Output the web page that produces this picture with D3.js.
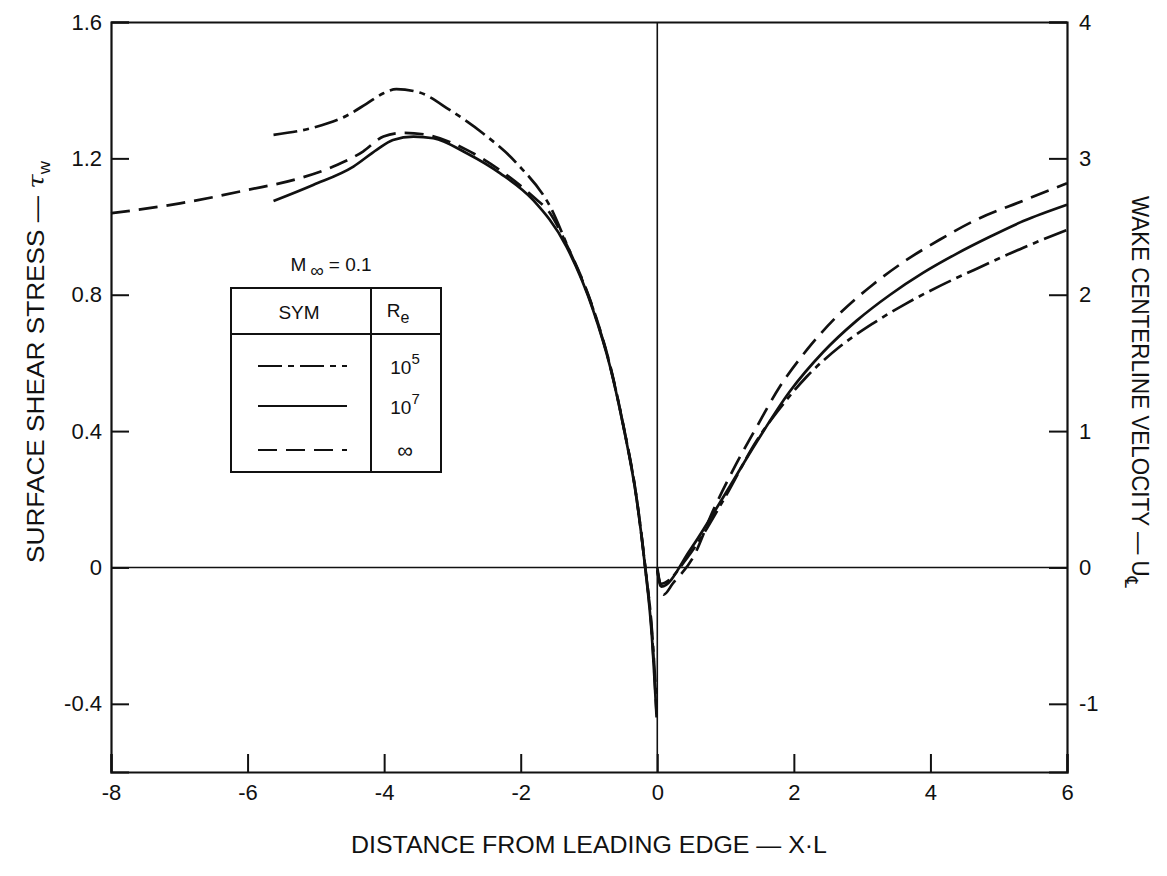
<!DOCTYPE html>
<html>
<head>
<meta charset="utf-8">
<script src="https://cdn.jsdelivr.net/npm/d3@7"></script>
<style>
  html, body { margin: 0; padding: 0; background: #fff; }
  svg text { font-family: "Liberation Sans", Arial, Helvetica, sans-serif; fill: #111; }
</style>
</head>
<body>
<svg id="chart" width="1167" height="876"></svg>
<script>
// ---------- DATA ----------
const xTicks = [-8, -6, -4, -2, 0, 2, 4, 6];
const xTickLabels = ["-8", "-6", "-4", "-2", "0", "2", "4", "6"];
const yLeftTicks = [1.6, 1.2, 0.8, 0.4, 0, -0.4];
const yLeftTickLabels = ["1.6", "1.2", "0.8", "0.4", "0", "-0.4"];
const yRightTicks = [4, 3, 2, 1, 0, -1];
const yRightTickLabels = ["4", "3", "2", "1", "0", "-1"];

// Surface shear stress (left axis), x < 0
const shearInfX = [-8, -6.99, -6.01, -5.23, -4.745, -4.31, -4.01, -3.72, -3.4, -2.79, -2.30, -1.82, -1.57, -1.33, -0.94, -0.69, -0.50, -0.30, -0.18, -0.08, -0.01];
const shearInfY = [1.039, 1.068, 1.107, 1.142, 1.176, 1.22, 1.264, 1.275, 1.270, 1.225, 1.165, 1.088, 1.039, 0.948, 0.760, 0.592, 0.420, 0.200, 0.008, -0.19, -0.43];
const shear1e7X = [-5.62, -5.04, -4.45, -4.11, -3.87, -3.57, -3.28, -2.79, -2.30, -1.82, -1.33, -0.94, -0.69, -0.50, -0.30, -0.18, -0.08, -0.01];
const shear1e7Y = [1.075, 1.122, 1.176, 1.225, 1.254, 1.264, 1.259, 1.215, 1.156, 1.078, 0.941, 0.755, 0.588, 0.417, 0.197, 0.005, -0.2, -0.44];
const shear1e5X = [-5.62, -5.04, -4.55, -4.26, -4.01, -3.82, -3.48, -3.04, -2.55, -2.06, -1.52, -1.33, -0.94, -0.69, -0.50, -0.30, -0.18, -0.08, -0.01];
const shear1e5Y = [1.269, 1.290, 1.325, 1.360, 1.391, 1.403, 1.393, 1.342, 1.273, 1.186, 1.039, 0.950, 0.758, 0.590, 0.419, 0.199, 0.006, -0.18, -0.40];

// Wake centerline velocity (right axis), x > 0
const wakeInfX = [0, 0.09, 0.23, 0.53, 0.82, 1.11, 1.455, 1.80, 2.19, 2.675, 3.16, 3.65, 4.14, 4.63, 5.36, 6];
const wakeInfY = [0, -0.2, -0.116, 0.079, 0.42, 0.715, 1.03, 1.33, 1.595, 1.864, 2.075, 2.255, 2.405, 2.54, 2.69, 2.817];
const wake1e7X = [0, 0.06, 0.48, 0.97, 1.455, 1.94, 2.43, 2.92, 3.41, 3.89, 4.38, 4.87, 5.36, 6];
const wake1e7Y = [-0.02, -0.14, 0.128, 0.519, 0.92, 1.29, 1.58, 1.81, 2.0, 2.16, 2.30, 2.425, 2.54, 2.66];
const wake1e5X = [0, 0.05, 0.48, 0.97, 1.455, 1.80, 2.19, 2.675, 3.16, 3.65, 4.14, 4.63, 5.36, 6];
const wake1e5Y = [-0.02, -0.12, 0.10, 0.495, 0.93, 1.17, 1.40, 1.62, 1.79, 1.937, 2.065, 2.18, 2.345, 2.475];

const legendLabels = ["5", "7", "∞"];   // R_e values: 10^5, 10^7, ∞
const legendStyles = ["dashdot", "solid", "dashed"];

// ---------- CHART ----------
const svg = d3.select("#chart");
const x = d3.scaleLinear().domain([-8, 6]).range([111, 1067]);
const yL = d3.scaleLinear().domain([-0.6, 1.6]).range([772, 22]);
const yR = d3.scaleLinear().domain([-1.5, 4]).range([772, 22]);

const dashes = { solid: null, dashed: "19,9", dashdot: "24,6,6,6" };
const fontSize = 22;

// zero reference lines
svg.append("line").attr("x1", x(-8)).attr("x2", x(6)).attr("y1", yL(0)).attr("y2", yL(0))
  .attr("stroke", "#111").attr("stroke-width", 1.6);
svg.append("line").attr("x1", x(0)).attr("x2", x(0)).attr("y1", yL(1.6)).attr("y2", yL(-0.6))
  .attr("stroke", "#111").attr("stroke-width", 1.6);

// axes
const tick = 18;
const gB = svg.append("g").attr("transform", `translate(0,${yL(-0.6)})`)
  .call(d3.axisBottom(x).tickValues(xTicks).tickSize(-tick).tickFormat((d, i) => xTickLabels[i]).tickPadding(9));
const gL = svg.append("g").attr("transform", `translate(${x(-8)},0)`)
  .call(d3.axisLeft(yL).tickValues(yLeftTicks).tickSize(-tick).tickFormat((d, i) => yLeftTickLabels[i]).tickPadding(10));
const gR = svg.append("g").attr("transform", `translate(${x(6)},0)`)
  .call(d3.axisRight(yR).tickValues(yRightTicks).tickSize(-tick).tickFormat((d, i) => yRightTickLabels[i]).tickPadding(10));
const gT = svg.append("g").attr("transform", `translate(0,${yL(1.6)})`)
  .call(d3.axisTop(x).tickValues([]).tickSize(0));
[gB, gL, gR, gT].forEach(g => {
  g.select(".domain").attr("stroke", "#111").attr("stroke-width", 2.2);
  g.selectAll(".tick line").attr("stroke", "#111").attr("stroke-width", 2);
  g.selectAll(".tick text").attr("font-size", fontSize).attr("fill", "#111")
    .attr("font-family", "'Liberation Sans', Arial, sans-serif");
});
gB.selectAll(".tick text").attr("dy", "0.85em");
gL.selectAll(".tick text").attr("x", -9);
gR.selectAll(".tick text").attr("x", 12);

// curves
const line = d3.line().x(d => x(d[0])).curve(d3.curveMonotoneX);
function drawSeries(xs, ys, yScale, style) {
  const pts = xs.map((v, i) => [v, ys[i]]);
  svg.append("path").datum(pts)
    .attr("d", line.y(d => yScale(d[1])))
    .attr("fill", "none").attr("stroke", "#111").attr("stroke-width", 2.7)
    .attr("stroke-dasharray", dashes[style]);
}
drawSeries(shearInfX, shearInfY, yL, "dashed");
drawSeries(shear1e5X, shear1e5Y, yL, "dashdot");
drawSeries(shear1e7X, shear1e7Y, yL, "solid");
drawSeries(wakeInfX, wakeInfY, yR, "dashed");
drawSeries(wake1e5X, wake1e5Y, yR, "dashdot");
drawSeries(wake1e7X, wake1e7Y, yR, "solid");

// axis titles
const tL = svg.append("text").attr("transform", "translate(44,362) rotate(-90)")
  .attr("text-anchor", "middle").attr("font-size", 23)
  .attr("textLength", 402).attr("lengthAdjust", "spacingAndGlyphs");
tL.append("tspan").text("SURFACE SHEAR STRESS — ");
tL.append("tspan").attr("font-style", "italic").attr("font-family", "'DejaVu Serif', serif").text("τ");
tL.append("tspan").attr("font-size", 16).attr("dy", 6).text("w");

svg.append("text").attr("x", 589).attr("y", 853).attr("text-anchor", "middle")
  .attr("font-size", 23).attr("textLength", 476).attr("lengthAdjust", "spacingAndGlyphs")
  .text("DISTANCE FROM LEADING EDGE — X·L");

const tR = svg.append("text").attr("transform", "translate(1132,392) rotate(90)")
  .attr("text-anchor", "middle").attr("font-size", 23)
  .attr("textLength", 392).attr("lengthAdjust", "spacingAndGlyphs");
tR.append("tspan").text("WAKE CENTERLINE VELOCITY — U");
tR.append("tspan").attr("font-size", 18).attr("dy", 7).attr("font-family", "'DejaVu Sans', sans-serif").text("℄");

// legend
const lg = svg.append("g");
const bx0 = 231, bx1 = 441, by0 = 288, by1 = 472, colX = 371, hdrY = 334;
const mt = lg.append("text").attr("x", 331).attr("y", 271).attr("text-anchor", "middle").attr("font-size", 19);
mt.append("tspan").text("M");
mt.append("tspan").attr("font-size", 19).attr("dy", 6).attr("dx", 4).text("∞");
mt.append("tspan").attr("dy", -6).attr("dx", 5).text("= 0.1");
lg.append("rect").attr("x", bx0).attr("y", by0).attr("width", bx1 - bx0).attr("height", by1 - by0)
  .attr("fill", "none").attr("stroke", "#111").attr("stroke-width", 2);
lg.append("line").attr("x1", bx0).attr("x2", bx1).attr("y1", hdrY).attr("y2", hdrY).attr("stroke", "#111").attr("stroke-width", 2);
lg.append("line").attr("x1", colX).attr("x2", colX).attr("y1", by0).attr("y2", by1).attr("stroke", "#111").attr("stroke-width", 2);
lg.append("text").attr("x", 299).attr("y", 319).attr("text-anchor", "middle").attr("font-size", 19).text("SYM");
const re = lg.append("text").attr("x", 398).attr("y", 317).attr("text-anchor", "middle").attr("font-size", 19);
re.append("tspan").text("R");
re.append("tspan").attr("font-size", 16).attr("dy", 6).text("e");
const rowY = [366, 406, 450];
legendStyles.forEach((s, i) => {
  lg.append("line").attr("x1", 258).attr("x2", 347).attr("y1", rowY[i]).attr("y2", rowY[i])
    .attr("stroke", "#111").attr("stroke-width", 2.2).attr("stroke-dasharray", dashes[s]);
  const t = lg.append("text").attr("x", 405).attr("y", rowY[i] + 8).attr("text-anchor", "middle").attr("font-size", 19);
  if (legendLabels[i] === "∞") {
    t.attr("font-size", 22).text("∞");
  } else {
    t.append("tspan").text("10");
    t.append("tspan").attr("font-size", 15).attr("dy", -10).text(legendLabels[i]);
  }
});
</script>
</body>
</html>
